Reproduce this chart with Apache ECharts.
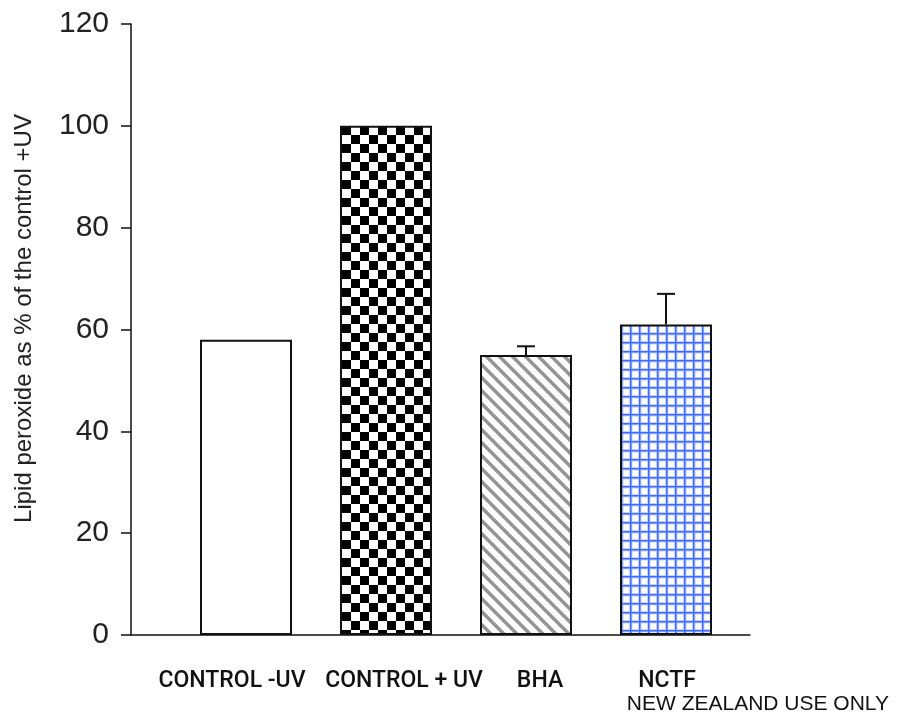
<!DOCTYPE html>
<html>
<head>
<meta charset="utf-8">
<script src="https://cdn.jsdelivr.net/npm/echarts@6/dist/echarts.min.js"></script>
<style>
  html, body { margin: 0; padding: 0; background: #fff; }
  #container1 { width: 901px; height: 716px; }
</style>
</head>
<body>
<div id="container1"></div>
<script>
// data
var categories = ['CONTROL -UV', 'CONTROL + UV', 'BHA', 'NCTF'];
var values = [58, 100, 55, 61];
var errors = [0, 0, 1.7, 6];
var yTicks = [0, 20, 40, 60, 80, 100, 120];
var footNote = 'NEW ZEALAND USE ONLY';

// label nudges so the text sits like the original
var labelShift = [-14, 18, 14, 1];

function makeTile(size, draw) {
  var c = document.createElement('canvas');
  c.width = size; c.height = size;
  var ctx = c.getContext('2d');
  draw(ctx, size);
  return c;
}

var checker = makeTile(18, function (ctx, s) {
  ctx.fillStyle = '#fff'; ctx.fillRect(0, 0, s, s);
  ctx.fillStyle = '#000';
  ctx.fillRect(0, 0, s / 2, s / 2);
  ctx.fillRect(s / 2, s / 2, s / 2, s / 2);
});

var stripes = makeTile(13, function (ctx, s) {
  ctx.fillStyle = '#fff'; ctx.fillRect(0, 0, s, s);
  ctx.strokeStyle = '#959595';
  ctx.lineWidth = 3.5;
  ctx.beginPath();
  ctx.moveTo(-2, -2); ctx.lineTo(s + 2, s + 2);
  ctx.moveTo(-4, s - 4); ctx.lineTo(4, s + 4);
  ctx.moveTo(s - 4, -4); ctx.lineTo(s + 4, 4);
  ctx.stroke();
});

var blueGrid = makeTile(9, function (ctx, s) {
  ctx.fillStyle = '#c4d3ff'; ctx.fillRect(0, 0, s, s);
  ctx.fillStyle = '#ffffff'; ctx.fillRect(2.5, 2.5, 5.5, 5.5);
  ctx.fillStyle = '#3f6cff';
  ctx.fillRect(0, 0, s, 1.5);
  ctx.fillRect(0, 0, 1.5, s);
});

var fills = ['#ffffff',
  { image: checker, repeat: 'repeat' },
  { image: stripes, repeat: 'repeat' },
  { image: blueGrid, repeat: 'repeat' }];

var dom = document.getElementById('container1');
var myChart = echarts.init(dom);

var barData = values.map(function (v, i) {
  return { value: v, itemStyle: { color: fills[i] } };
});
var errData = [];
values.forEach(function (v, i) {
  if (errors[i] > 0) errData.push([i, v, v + errors[i]]);
});
var axisData = categories.map(function (c, i) {
  var p = labelShift[i];
  return {
    value: c,
    textStyle: { padding: p >= 0 ? [0, 0, 0, 2 * p] : [0, -2 * p, 0, 0] }
  };
});

var option = {
  animation: false,
  backgroundColor: '#fff',
  title: {
    text: footNote,
    right: 12,
    top: 694,
    padding: 0,
    textStyle: { fontFamily: 'Liberation Sans', fontSize: 21, fontWeight: 'normal', color: '#111' }
  },
  grid: [
    { left: 131, top: 24, width: 619, bottom: 81 },
    { left: 176, top: 24, width: 560, bottom: 81 }
  ],
  xAxis: [
    {
      gridIndex: 0, type: 'value', min: 0, max: 1,
      axisLine: { show: true, lineStyle: { color: '#111', width: 1.5 } },
      axisTick: { show: false }, axisLabel: { show: false }, splitLine: { show: false }
    },
    {
      gridIndex: 1, type: 'category', data: axisData,
      axisLine: { show: false }, axisTick: { show: false },
      axisLabel: { margin: 35, fontFamily: 'Roboto', fontWeight: 500, fontSize: 23, color: '#111', interval: 0 }
    }
  ],
  yAxis: [
    {
      gridIndex: 0, type: 'value', min: 0, max: 120, interval: 20,
      name: 'Lipid peroxide as % of the control +UV',
      nameLocation: 'middle', nameGap: 95,
      nameTextStyle: { fontFamily: 'Liberation Sans', fontSize: 24, color: '#222', padding: [0, 0, 0, 22] },
      axisLine: { show: true, lineStyle: { color: '#111', width: 1.5 } },
      axisTick: { show: true, length: 10, lineStyle: { color: '#111', width: 1.5 } },
      axisLabel: {
        margin: 22, fontFamily: 'Liberation Sans', fontSize: 30, color: '#222',
        formatter: function (v) { return yTicks.indexOf(v) >= 0 ? String(v) : ''; }
      },
      splitLine: { show: false }
    },
    {
      gridIndex: 1, type: 'value', min: 0, max: 120, interval: 20, show: false
    }
  ],
  series: [
    {
      type: 'bar', xAxisIndex: 1, yAxisIndex: 1,
      barWidth: 92,
      data: barData,
      itemStyle: { borderColor: '#111', borderWidth: 2 }
    },
    {
      type: 'custom', xAxisIndex: 1, yAxisIndex: 1,
      data: errData,
      renderItem: function (params, api) {
        var base = api.coord([api.value(0), api.value(1)]);
        var top = api.coord([api.value(0), api.value(2)]);
        var st = { stroke: '#111', lineWidth: 2 };
        return {
          type: 'group',
          children: [
            { type: 'line', shape: { x1: base[0], y1: base[1], x2: top[0], y2: top[1] }, style: st },
            { type: 'line', shape: { x1: top[0] - 9, y1: top[1], x2: top[0] + 9, y2: top[1] }, style: st }
          ]
        };
      },
      z: 5
    }
  ]
};

myChart.setOption(option);
</script>
</body>
</html>
